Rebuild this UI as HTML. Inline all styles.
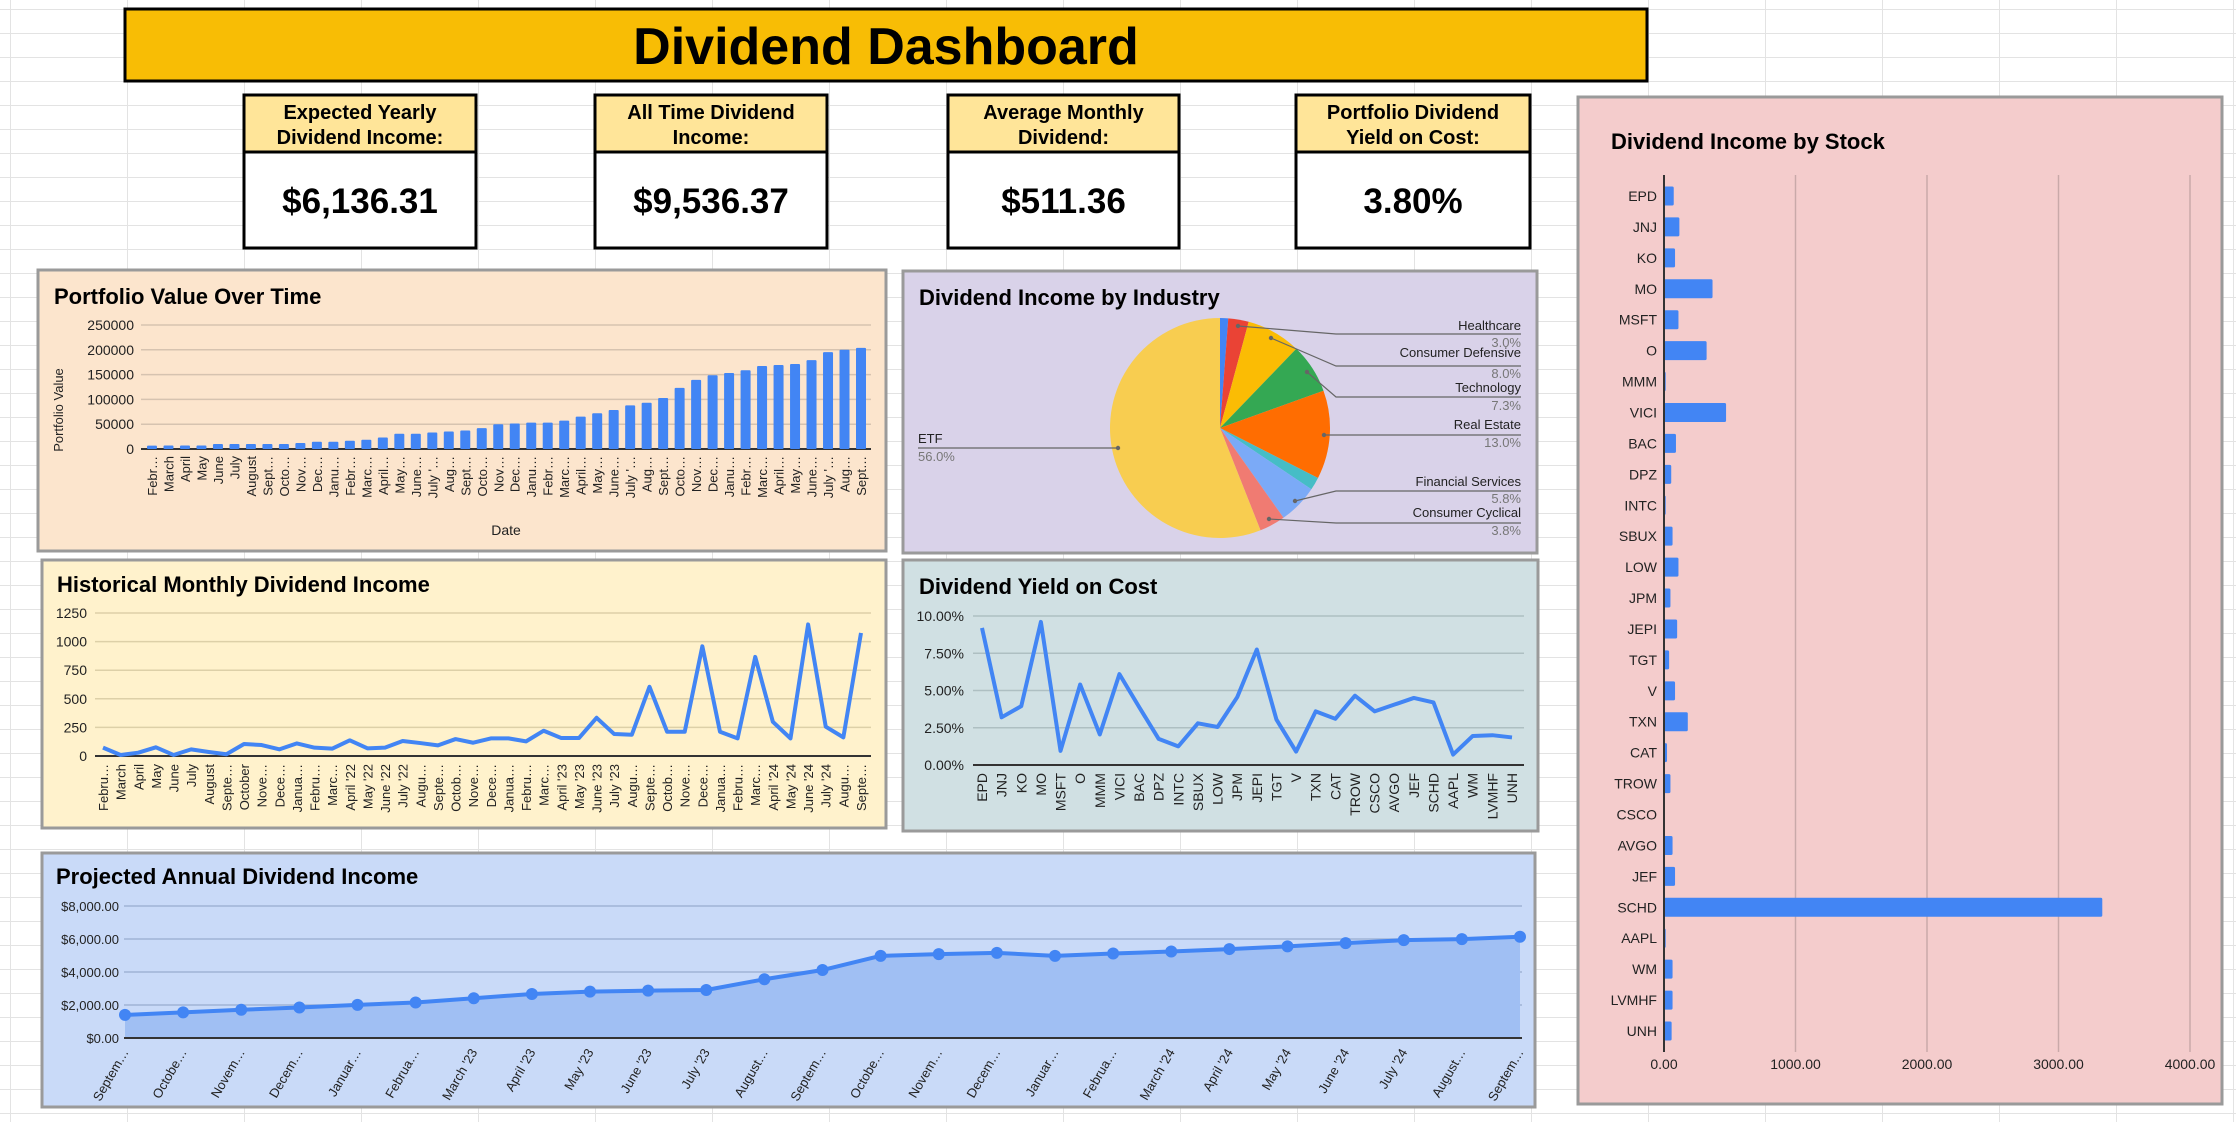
<!DOCTYPE html>
<html><head><meta charset="utf-8"><style>
html,body{margin:0;padding:0;}
body{width:2236px;height:1122px;overflow:hidden;font-family:"Liberation Sans",Arial,sans-serif;
background-color:#fff;
background-image:linear-gradient(to right,#e3e3e3 1px,transparent 1px),linear-gradient(to bottom,#e3e3e3 1px,transparent 1px);
background-size:117px 24px;background-position:10px 9px;}
svg{position:absolute;left:0;top:0;}
text{font-family:"Liberation Sans",Arial,sans-serif;}
</style></head><body>
<svg id="s" width="2236" height="1122" viewBox="0 0 2236 1122" xmlns="http://www.w3.org/2000/svg"></svg>
<script>
// ---- data ----
const pLabels=["Febr…","March","April","May","June","July","August","Sept…","Octo…","Nov…","Dec…","Janu…","Febr…","Marc…","April…","May…","June…","July '…","Aug…","Sept…","Octo…","Nov…","Dec…","Janu…","Febr…","Marc…","April…","May…","June…","July '…","Aug…","Sept…","Octo…","Nov…","Dec…","Janu…","Febr…","Marc…","April…","May…","June…","July '…","Aug…","Sept…"];
const pValues=[6700,7000,7000,7000,10000,10000,10000,10000,10000,12000,14700,14700,16700,18700,23300,30700,30700,33300,35300,37300,42000,50000,51300,53300,53300,57300,65300,72000,78700,88000,93300,102700,123300,139300,148700,153300,158700,167300,169300,171300,179300,195300,200000,204000];
const pTicks=[0,50000,100000,150000,200000,250000];
const hLabels=["Febru…","March","April","May","June","July","August","Septe…","October","Nove…","Dece…","Janua…","Febru…","Marc…","April '22","May '22","June '22","July '22","Augu…","Septe…","Octob…","Nove…","Dece…","Janua…","Febru…","Marc…","April '23","May '23","June '23","July '23","Augu…","Septe…","Octob…","Nove…","Dece…","Janua…","Febru…","Marc…","April '24","May '24","June '24","July '24","Augu…","Septe…"];
const hValues=[73,9,29,76,9,58,35,15,105,96,58,110,73,64,137,67,73,131,113,93,148,116,154,154,128,221,157,157,334,192,186,605,212,212,959,212,154,866,299,154,1150,256,163,1076];
const hTicks=[0,250,500,750,1000,1250];
const stocks=["EPD","JNJ","KO","MO","MSFT","O","MMM","VICI","BAC","DPZ","INTC","SBUX","LOW","JPM","JEPI","TGT","V","TXN","CAT","TROW","CSCO","AVGO","JEF","SCHD","AAPL","WM","LVMHF","UNH"];
const yieldValues=[9.2,3.2,3.95,9.6,0.95,5.4,2.05,6.1,3.9,1.75,1.25,2.8,2.55,4.55,7.75,3.05,0.9,3.6,3.1,4.65,3.6,4.05,4.5,4.2,0.7,1.95,2.0,1.85];
const yTicks=[0,2.5,5,7.5,10];
const stockIncome=[74,117,84,369,110,324,13,472,91,55,13,65,110,49,100,39,84,181,23,49,3,65,84,3333,13,65,65,58];
const sTicks=[0,1000,2000,3000,4000];
const projLabels=["Septem…","Octobe…","Novem…","Decem…","Januar…","Februa…","March '23","April '23","May '23","June '23","July '23","August…","Septem…","Octobe…","Novem…","Decem…","Januar…","Februa…","March '24","April '24","May '24","June '24","July '24","August…","Septem…"];
const projValues=[1400,1550,1710,1850,2010,2150,2410,2670,2810,2870,2910,3560,4120,4980,5080,5160,4980,5120,5240,5390,5550,5750,5930,5990,6136];
const projTicks=[0,2000,4000,6000,8000];
const pieNames=["Other A","Healthcare","Consumer Defensive","Technology","Real Estate","Other B","Financial Services","Consumer Cyclical","ETF"];
const pieValues=[1.2,3.0,8.0,7.3,13.0,1.9,5.8,3.8,56.0];
const pieColors=["#4285f4","#ea4335","#fbbc04","#34a853","#ff6d01","#46bdc6","#7baaf7","#f07b72","#f8cd50"];

const NS="http://www.w3.org/2000/svg";
const S=document.getElementById('s');
function mk(tag,attrs,parent){const e=document.createElementNS(NS,tag);for(const k in attrs)e.setAttribute(k,attrs[k]);(parent||S).appendChild(e);return e;}
function txt(str,attrs,parent){const e=mk('text',attrs,parent);e.textContent=str;return e;}
function fmt$(v){return '$'+v.toLocaleString('en-US',{minimumFractionDigits:2,maximumFractionDigits:2});}
let e;

// ---- header ----
e=mk('rect',{x:125,y:9,width:1522,height:72,fill:'#f8bd05',stroke:'#000','stroke-width':3});


e=txt('Dividend Dashboard',{x:886,y:64,'text-anchor':'middle','font-size':52,'font-weight':'bold',fill:'#000'});



const kpis=[[244,476,"Expected Yearly","Dividend Income:","$6,136.31","expected-yearly-income"],[595,827,"All Time Dividend","Income:","$9,536.37","all-time-income"],[948,1179,"Average Monthly","Dividend:","$511.36","average-monthly-dividend"],[1296,1530,"Portfolio Dividend","Yield on Cost:","3.80%","portfolio-yield-on-cost"]];
kpis.forEach(k=>{
  const g=mk('g',{});
  
  
  const cx=(k[0]+k[1])/2;
  let r=mk('rect',{x:k[0],y:95,width:k[1]-k[0],height:57,fill:'#ffe599',stroke:'#000','stroke-width':3},g);
  
  
  r=mk('rect',{x:k[0],y:152,width:k[1]-k[0],height:96,fill:'#fff',stroke:'#000','stroke-width':3},g);
  
  
  let t=txt(k[2],{x:cx,y:119,'text-anchor':'middle','font-size':20,'font-weight':'bold'},g);
  
  
  t=txt(k[3],{x:cx,y:144,'text-anchor':'middle','font-size':20,'font-weight':'bold'},g);
  
  
  t=txt(k[4],{x:cx,y:213,'text-anchor':'middle','font-size':35,'font-weight':'bold'},g);
  
  
});

function panel(x,y,w,h,fill,title,tx,ty,name){
  const g=mk('g',{});
  
  
  const r=mk('rect',{x:x,y:y,width:w,height:h,fill:fill,stroke:'#9a9a9a','stroke-width':3},g);
  
  
  const t=txt(title,{x:tx,y:ty,'font-size':22,'font-weight':'bold',fill:'#000'},g);
  
  
  return g;
}

// ---- Portfolio value over time ----
(function(){
  const g=panel(38,270,848,281,'#fce5cd','Portfolio Value Over Time',54,304,'portfolio-value-chart');
  const L=141,R=871,T=325,B=449,max=250000;
  const yS=v=>B-v/max*(B-T);
  const n=pValues.length,x0=152,x1=861;
  const xS=i=>x0+i*(x1-x0)/(n-1);
  pTicks.forEach(t=>{
    let l=mk('line',{x1:L,x2:R,y1:yS(t),y2:yS(t),stroke:t===0?'#333':'#d6c3b0','stroke-width':t===0?2:1.5},g);
    
    
    let tx=txt(String(t),{x:134,y:yS(t)+5,'text-anchor':'end','font-size':14,fill:'#222'},g);
    
    
  });
  pValues.forEach((v,i)=>{
    let b=mk('rect',{x:xS(i)-5,y:yS(v),width:10,height:B-yS(v),fill:'#4285f4',rx:1},g);
    
    
    let tx=txt(pLabels[i],{x:xS(i)+5,y:456,'text-anchor':'end','font-size':13,fill:'#222',transform:'rotate(-90 '+(xS(i)+5)+' 456)'},g);
    
    
  });
  let t=txt('Portfolio Value',{x:63,y:410,'text-anchor':'middle','font-size':13,fill:'#222',transform:'rotate(-90 63 410)'},g);
  
  
  t=txt('Date',{x:506,y:535,'text-anchor':'middle','font-size':14,fill:'#222'},g);
  
  
})();

// ---- Historical monthly ----
(function(){
  const g=panel(42,560,844,268,'#fff2cc','Historical Monthly Dividend Income',57,592,'historical-monthly-chart');
  const L=95,R=871,T=613,B=756,max=1250;
  const yS=v=>B-v/max*(B-T);
  const n=hValues.length,x0=103,x1=861;
  const xS=i=>x0+i*(x1-x0)/(n-1);
  hTicks.forEach(t=>{
    let l=mk('line',{x1:L,x2:R,y1:yS(t),y2:yS(t),stroke:t===0?'#333':'#ddd0a8','stroke-width':t===0?2:1.5},g);
    
    
    let tx=txt(String(t),{x:87,y:yS(t)+5,'text-anchor':'end','font-size':14,fill:'#222'},g);
    
    
  });
  const pts=hValues.map((v,i)=>xS(i)+','+yS(v)).join(' ');
  let pl=mk('polyline',{points:pts,fill:'none',stroke:'#4285f4','stroke-width':4,'stroke-linejoin':'round'},g);
  
  
  hLabels.forEach((s,i)=>{
    let tx=txt(s,{x:xS(i)+5,y:764,'text-anchor':'end','font-size':13,fill:'#222',transform:'rotate(-90 '+(xS(i)+5)+' 764)'},g);
    
    
  });
})();

// ---- Yield on cost ----
(function(){
  const g=panel(903,560,635,271,'#d0e0e3','Dividend Yield on Cost',919,594,'yield-on-cost-chart');
  const L=973,R=1524,T=616,B=765,max=10;
  const yS=v=>B-v/max*(B-T);
  const n=yieldValues.length,x0=982,x1=1512;
  const xS=i=>x0+i*(x1-x0)/(n-1);
  yTicks.forEach(t=>{
    let l=mk('line',{x1:L,x2:R,y1:yS(t),y2:yS(t),stroke:t===0?'#333':'#aebfc2','stroke-width':t===0?2:1.5},g);
    
    
    let tx=txt(t.toFixed(2)+'%',{x:964,y:yS(t)+5,'text-anchor':'end','font-size':14,fill:'#222'},g);
    
    
  });
  const pts=yieldValues.map((v,i)=>xS(i)+','+yS(v)).join(' ');
  let pl=mk('polyline',{points:pts,fill:'none',stroke:'#4285f4','stroke-width':4,'stroke-linejoin':'round'},g);
  
  
  stocks.forEach((s,i)=>{
    let tx=txt(s,{x:xS(i)+5,y:773,'text-anchor':'end','font-size':14,fill:'#222',transform:'rotate(-90 '+(xS(i)+5)+' 773)'},g);
    
    
  });
})();

// ---- Pie ----
(function(){
  const g=panel(903,271,634,282,'#d9d2e9','Dividend Income by Industry',919,305,'industry-pie-chart');
  const cx=1220,cy=428,r=110;
  const total=pieValues.reduce((a,b)=>a+b,0);
  let a=0;
  pieValues.forEach((v,i)=>{
    const a0=a, a1=a+v/total*2*Math.PI; a=a1;
    const p0=[cx+r*Math.sin(a0),cy-r*Math.cos(a0)], p1=[cx+r*Math.sin(a1),cy-r*Math.cos(a1)];
    const large=(a1-a0)>Math.PI?1:0;
    let p=mk('path',{d:'M'+cx+','+cy+' L'+p0[0]+','+p0[1]+' A'+r+','+r+' 0 '+large+' 1 '+p1[0]+','+p1[1]+' Z',fill:pieColors[i]},g);
    
    
  });
  const labels=[["Healthcare","3.0%",1238,326,330,334,347],["Consumer Defensive","8.0%",1271,338,357,366,378],["Technology","7.3%",1307,372,392,397,410],["Real Estate","13.0%",1324,435,429,435,447],["Financial Services","5.8%",1295,501,486,491,503],["Consumer Cyclical","3.8%",1269,519,517,523,535]];
  labels.forEach(l=>{
    let pl=mk('polyline',{points:l[2]+','+l[3]+' 1336,'+l[5]+' 1521,'+l[5],fill:'none',stroke:'#666','stroke-width':1.2},g);
    
    
    let c=mk('circle',{cx:l[2],cy:l[3],r:2.2,fill:'#666'},g);
    
    
    let t=txt(l[0],{x:1521,y:l[4],'text-anchor':'end','font-size':13,fill:'#222'},g);
    
    
    t=txt(l[1],{x:1521,y:l[6],'text-anchor':'end','font-size':13,fill:'#777'},g);
    
    
  });
  let pl=mk('line',{x1:918,y1:448,x2:1118,y2:448,stroke:'#666','stroke-width':1.2},g);
  
  
  let c=mk('circle',{cx:1118,cy:448,r:2.2,fill:'#666'},g);
  
  
  let t=txt('ETF',{x:918,y:443,'font-size':13,fill:'#222'},g);
  
  
  t=txt('56.0%',{x:918,y:461,'font-size':13,fill:'#777'},g);
  
  
})();

// ---- Projected annual ----
(function(){
  const g=panel(42,853,1493,254,'#c9daf8','Projected Annual Dividend Income',56,884,'projected-annual-chart');
  const L=124,R=1522,T=906,B=1038,max=8000;
  const yS=v=>B-v/max*(B-T);
  const n=projValues.length,x0=125,x1=1520;
  const xS=i=>x0+i*(x1-x0)/(n-1);
  projTicks.forEach(t=>{
    let l=mk('line',{x1:L,x2:R,y1:yS(t),y2:yS(t),stroke:t===0?'#333':'#9fb3d6','stroke-width':t===0?2:1.5},g);
    
    
    let tx=txt(fmt$(t),{x:119,y:yS(t)+5,'text-anchor':'end','font-size':13,fill:'#222'},g);
    
    
  });
  const pts=projValues.map((v,i)=>xS(i)+','+yS(v));
  let ar=mk('path',{d:'M'+xS(0)+','+B+' L'+pts.join(' L')+' L'+xS(n-1)+','+B+' Z',fill:'#a0bff3'},g);
  
  
  let bl=mk('line',{x1:L,x2:R,y1:B,y2:B,stroke:'#333','stroke-width':2},g);
  
  
  let pl=mk('polyline',{points:pts.join(' '),fill:'none',stroke:'#4285f4','stroke-width':4,'stroke-linejoin':'round'},g);
  
  
  projValues.forEach((v,i)=>{
    let c=mk('circle',{cx:xS(i),cy:yS(v),r:6,fill:'#4285f4'},g);
    
    
    let tx=txt(projLabels[i],{x:xS(i)+4,y:1052,'text-anchor':'end','font-size':13,fill:'#222',transform:'rotate(-60 '+(xS(i)+4)+' 1052)'},g);
    
    
  });
})();

// ---- Income by stock ----
(function(){
  const g=panel(1578,97,644,1007,'#f4cccc','Dividend Income by Stock',1611,149,'income-by-stock-chart');
  const X0=1664,max=4000,X4=2190,T=175,B=1052;
  const xS=v=>X0+v/max*(X4-X0);
  const n=stocks.length,y0=196,y1=1031;
  const yS=i=>y0+i*(y1-y0)/(n-1);
  sTicks.forEach(t=>{
    if(t>0){let l=mk('line',{x1:xS(t),x2:xS(t),y1:T,y2:B,stroke:'#c9a9a9','stroke-width':1.5},g);
    
    }
    let tx=txt(t.toFixed(2),{x:xS(t),y:1069,'text-anchor':'middle','font-size':14,fill:'#222'},g);
    
    
  });
  stockIncome.forEach((v,i)=>{
    let b=mk('rect',{x:X0,y:yS(i)-9.5,width:Math.max(1,xS(v)-X0),height:19,fill:'#4285f4',rx:1.5},g);
    
    
    let tx=txt(stocks[i],{x:1657,y:yS(i)+5,'text-anchor':'end','font-size':14,fill:'#222'},g);
    
    
  });
  let ax=mk('line',{x1:X0,x2:X0,y1:T,y2:B,stroke:'#333','stroke-width':2},g);
  
  
})();
</script>
</body></html>
